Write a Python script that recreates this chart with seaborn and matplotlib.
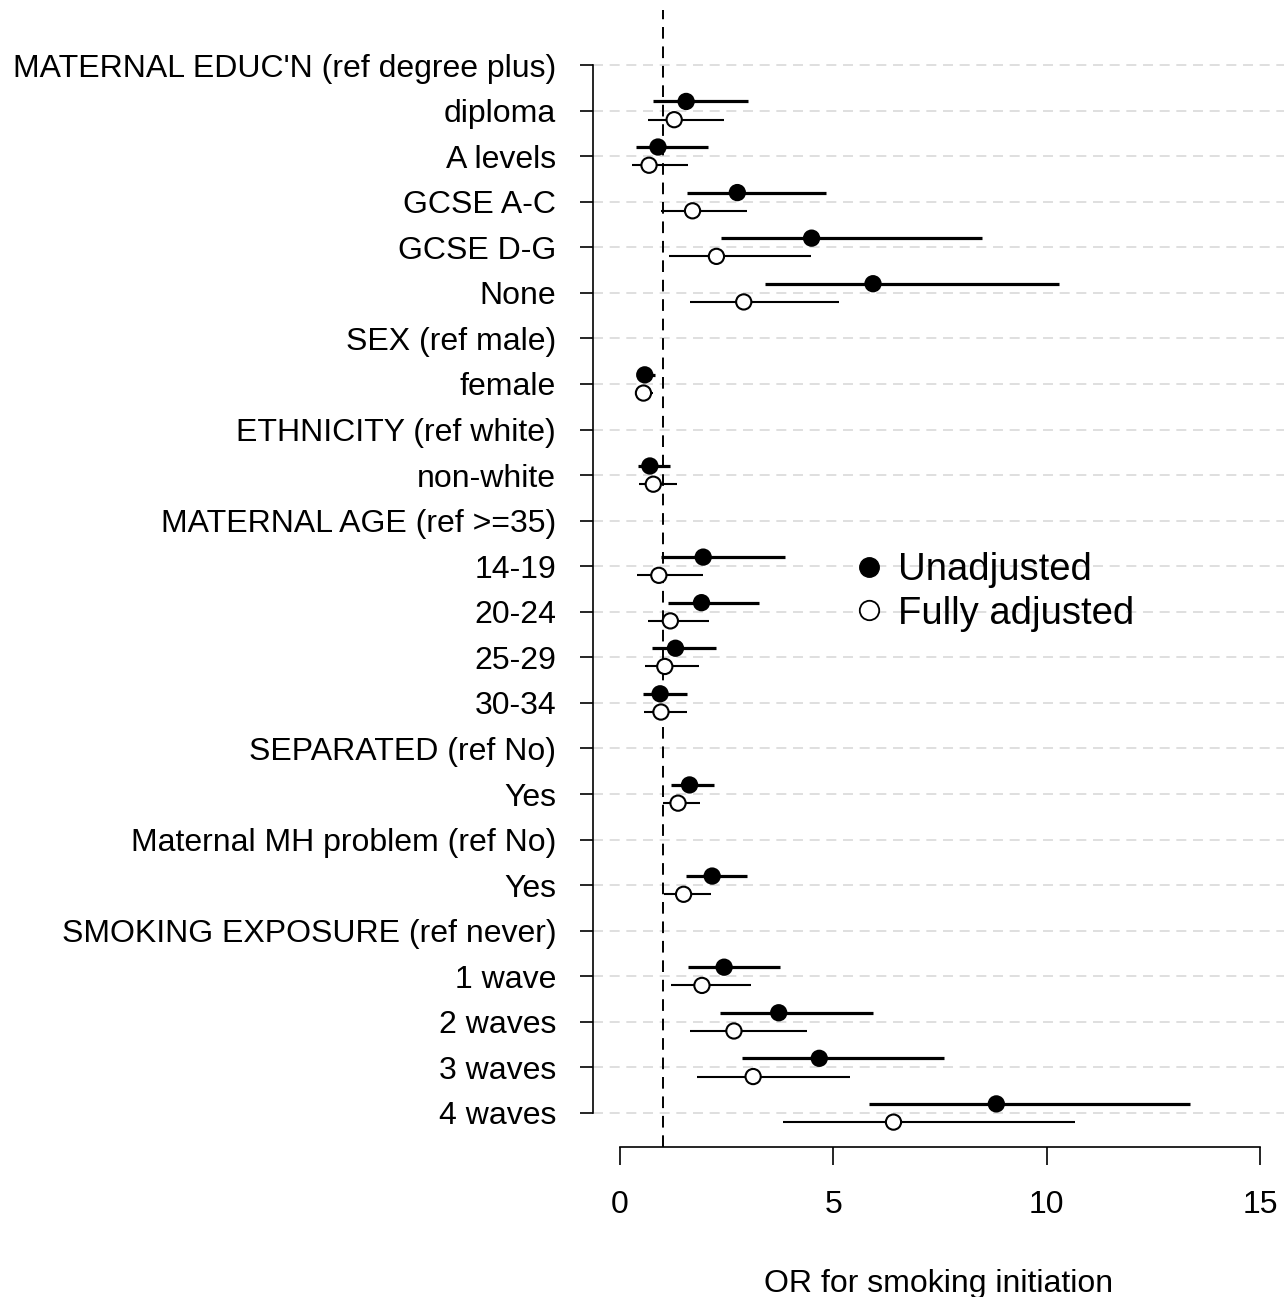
import matplotlib
matplotlib.use("Agg")
import matplotlib.pyplot as plt
from matplotlib.lines import Line2D
import seaborn as sns
import numpy as np
import pandas as pd

# ---- data ----
row_labels = [
    "MATERNAL EDUC'N (ref degree plus)", "diploma", "A levels", "GCSE A-C", "GCSE D-G", "None",
    "SEX (ref male)", "female",
    "ETHNICITY (ref white)", "non-white",
    "MATERNAL AGE (ref >=35)", "14-19", "20-24", "25-29", "30-34",
    "SEPARATED (ref No)", "Yes",
    "Maternal MH problem (ref No)", "Yes ",
    "SMOKING EXPOSURE (ref never)", "1 wave", "2 waves", "3 waves", "4 waves",
]
data_rows = ["diploma", "A levels", "GCSE A-C", "GCSE D-G", "None", "female", "non-white",
             "14-19", "20-24", "25-29", "30-34", "Yes", "Yes ",
             "1 wave", "2 waves", "3 waves", "4 waves"]

unadj_or = [1.55, 0.89, 2.75, 4.49, 5.93, 0.58, 0.70, 1.95, 1.91, 1.30, 0.94, 1.63, 2.16, 2.44, 3.72, 4.67, 8.82]
unadj_lo = [0.78, 0.38, 1.56, 2.37, 3.41, 0.50, 0.42, 0.97, 1.12, 0.74, 0.55, 1.20, 1.55, 1.60, 2.34, 2.87, 5.83]
unadj_hi = [3.00, 2.07, 4.83, 8.48, 10.30, 0.83, 1.17, 3.86, 3.25, 2.25, 1.56, 2.21, 2.98, 3.76, 5.93, 7.59, 13.37]

adj_or = [1.27, 0.68, 1.70, 2.26, 2.90, 0.55, 0.78, 0.91, 1.18, 1.05, 0.96, 1.36, 1.49, 1.92, 2.67, 3.12, 6.41]
adj_lo = [0.66, 0.28, 0.96, 1.14, 1.64, 0.48, 0.45, 0.41, 0.66, 0.59, 0.57, 1.00, 1.03, 1.20, 1.64, 1.81, 3.83]
adj_hi = [2.44, 1.60, 2.98, 4.48, 5.13, 0.77, 1.33, 1.95, 2.08, 1.86, 1.58, 1.875, 2.14, 3.08, 4.38, 5.38, 10.67]

x_ticks = [0, 5, 10, 15]
x_label = "OR for smoking initiation"
legend_labels = ["Unadjusted", "Fully adjusted"]

# ---- build table ----
row_pos = {lab: i for i, lab in enumerate(row_labels)}
offset = 0.2
recs = []
for k, lab in enumerate(data_rows):
    recs.append(dict(model="Unadjusted", y=row_pos[lab] - offset, OR=unadj_or[k], lo=unadj_lo[k], hi=unadj_hi[k]))
    recs.append(dict(model="Fully adjusted", y=row_pos[lab] + offset, OR=adj_or[k], lo=adj_lo[k], hi=adj_hi[k]))
df = pd.DataFrame(recs)

# ---- plot ----
sns.set_theme(style="white")
plt.rcParams['font.family'] = ['Liberation Sans', 'DejaVu Sans']
plt.rcParams['text.color'] = 'black'
plt.rcParams['axes.labelcolor'] = 'black'
plt.rcParams['xtick.color'] = 'black'
plt.rcParams['ytick.color'] = 'black'

W, H = 1284, 1297
fig = plt.figure(figsize=(W / 100, H / 100), dpi=100)
left_px, right_px, top_px, bot_px = 593, 1284, 10, 1147
ax = fig.add_axes([left_px / W, 1 - bot_px / H, (right_px - left_px) / W, (bot_px - top_px) / H])

n = len(row_labels)
# grid lines at every row
for i in range(n):
    ax.axhline(i, color="#d9d9d9", lw=1.2, ls=(0, (6, 4)), zorder=0)

# reference line at OR = 1
ax.axvline(1, color="black", lw=1.4, ls=(0, (6, 4)), zorder=1)

# CIs
u = df[df.model == "Unadjusted"]
a = df[df.model == "Fully adjusted"]
ax.hlines(u.y, u.lo, u.hi, color="black", lw=2.3, zorder=2)
ax.hlines(a.y, a.lo, a.hi, color="black", lw=1.5, zorder=2)

# points
sns.scatterplot(data=df, x="OR", y="y", hue="model",
                palette={"Unadjusted": "black", "Fully adjusted": "white"},
                edgecolor="black", linewidth=1.5, s=120, legend=False, zorder=3, ax=ax)

ax.set_xlim((593 - 620) / 42.667, (1284 - 620) / 42.667)
row_sp = (1113 - 65) / (n - 1)
ax.set_ylim((n - 1) + (1147 - 1113) / row_sp, 0 - (65 - 10) / row_sp)

ax.set_yticks(range(n))
ax.set_yticklabels([l.strip() for l in row_labels])
ax.set_xticks(x_ticks)
ax.set_xticklabels([str(t) for t in x_ticks])
ax.tick_params(axis="y", length=9.5, width=1.2, pad=17, labelsize=23, left=True, color="black", labelcolor="black")
ax.tick_params(axis="x", length=13, width=1.2, pad=18, labelsize=23, bottom=True, color="black", labelcolor="black")
ax.set_ylabel("")
ax.set_xlabel(x_label, fontsize=23, labelpad=35, color="black")

for s in ["top", "right"]:
    ax.spines[s].set_visible(False)
ax.spines["left"].set_bounds(0, n - 1)
ax.spines["bottom"].set_bounds(0, 15)
for s in ["left", "bottom"]:
    ax.spines[s].set_color("black")
    ax.spines[s].set_linewidth(1.2)

handles = [
    Line2D([], [], marker="o", ls="none", markerfacecolor="black", markeredgecolor="black", markersize=14),
    Line2D([], [], marker="o", ls="none", markerfacecolor="white", markeredgecolor="black", markeredgewidth=1.3, markersize=14),
]
ax.legend(handles, legend_labels, frameon=False, fontsize=27.5, loc="center left",
          bbox_to_anchor=((831 - left_px) / (right_px - left_px), 1 - (592 - top_px) / (bot_px - top_px)),
          handletextpad=0.25, labelspacing=0.2, borderpad=0, handlelength=1.0)

fig.savefig("out.png", dpi=100)
